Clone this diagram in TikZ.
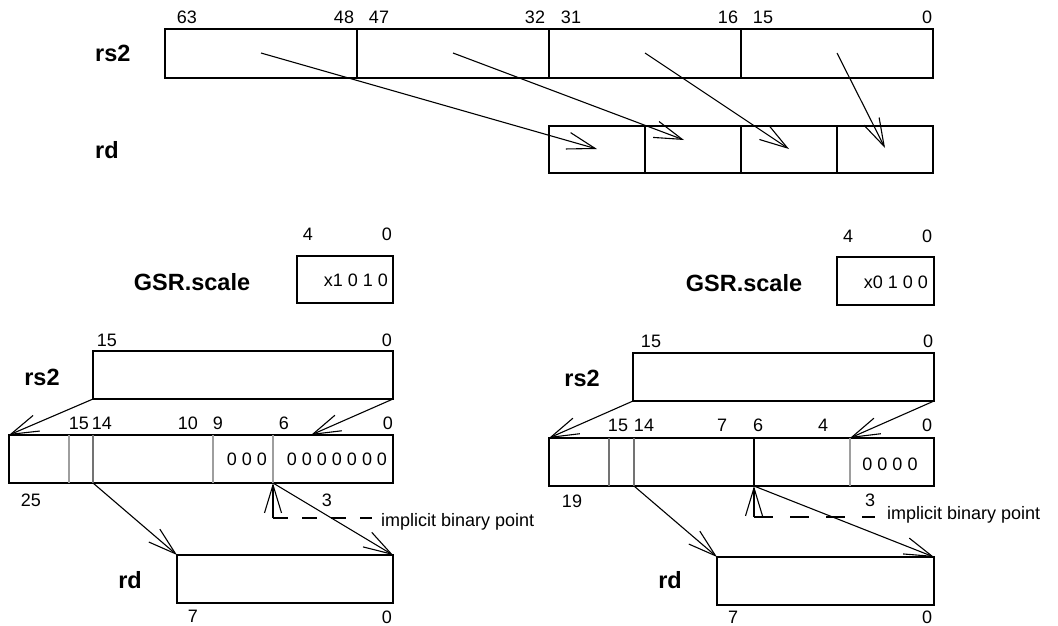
\documentclass[tikz,border=0pt]{standalone}
\usepackage{fontspec}
\setmainfont{Liberation Sans}
\usetikzlibrary{arrows.meta}
\begin{document}
\begin{tikzpicture}[x=1pt,y=-1pt,
  box/.style={draw, line width=1.1pt, inner sep=0pt, outer sep=0pt},
  num/.style={font=\fontsize{18}{20}\selectfont, inner sep=0pt},
  lbl/.style={font=\fontsize{23.5}{26}\selectfont\bfseries, inner sep=0pt},
  arr/.style={line width=1.1pt, -{Straight Barb[length=28pt,width=17pt]}},
  div/.style={line width=1.1pt},
  gdiv/.style={line width=1.1pt, draw=black!38},
  gdivd/.style={line width=1.1pt, draw=black!55},
  dshl/.style={line width=1.1pt, dash pattern=on 15pt off 14pt},
  dshr/.style={line width=1.1pt, dash pattern=on 19pt off 17pt},
]
\useasboundingbox (0,0) rectangle (1058,625);

% ---------------- top part ----------------
\node[lbl, anchor=west] (trs2l) at (95,53) {rs2};
\node[lbl, anchor=west] (trdl) at (95,150) {rd};
\node[box, minimum width=768pt, minimum height=49pt] (trs2) at (549,53.5) {};
\draw[div] (357,29) -- (357,78);
\draw[div] (549,29) -- (549,78);
\draw[div] (741,29) -- (741,78);
\node[num] (t63) at (187,17) {63};
\node[num] (t48) at (344,17) {48};
\node[num] (t47) at (379,17) {47};
\node[num] (t32) at (535,17) {32};
\node[num] (t31) at (571,17) {31};
\node[num] (t16) at (728,17) {16};
\node[num] (t15) at (763,17) {15};
\node[num] (t0) at (927,17) {0};
\node[box, minimum width=384pt, minimum height=47pt] (trd) at (741,149.5) {};
\draw[div] (645,126) -- (645,173);
\draw[div] (741,126) -- (741,173);
\draw[div] (837,126) -- (837,173);
\coordinate (s1) at (261,53); \coordinate (e1) at (597,149);
\coordinate (s2) at (453,53); \coordinate (e2) at (684,140);
\coordinate (s3) at (645,53); \coordinate (e3) at (789,149);
\coordinate (s4) at (837,53); \coordinate (e4) at (885,148);
\draw[arr] (s1) -- (e1);
\draw[arr] (s2) -- (e2);
\draw[arr] (s3) -- (e3);
\draw[arr] (s4) -- (e4);

% ---------------- bottom left ----------------
\node[lbl] (lgsrl) at (192,282) {GSR.scale};
\node[box, minimum width=96pt, minimum height=47pt] (lgsr) at (345,279.5) {};
\node[num, anchor=east] (lgsrv) at (388,280) {x1 0 1 0};
\node[num] (lg4) at (308,234) {4};
\node[num] (lg0) at (387,234) {0};

\node[lbl] (lrs2l) at (42,377) {rs2};
\node[box, minimum width=300pt, minimum height=48pt] (lrs2) at (243,375) {};
\node[num] (lr15) at (107,340) {15};
\node[num] (lr0) at (387,340) {0};

\node[box, minimum width=384pt, minimum height=48pt] (lw) at (201,459) {};
\draw[gdiv] (69,435) -- (69,483);
\draw[gdivd] (93,435) -- (93,483);
\draw[gdiv] (213,435) -- (213,483);
\draw[gdiv] (273,435) -- (273,483);
\node[num] (lw15) at (79,423) {15};
\node[num] (lw14) at (102,423) {14};
\node[num] (lw10) at (188,423) {10};
\node[num] (lw9) at (218,423) {9};
\node[num] (lw6) at (284,423) {6};
\node[num] (lw0) at (388,423) {0};
\node[num] (lwz1) at (247,459) {0 0 0};
\node[num] (lwz2) at (337,459) {0 0 0 0 0 0 0};
\node[num] (lw25) at (31,500) {25};
\node[num] (lw3) at (327,500) {3};

\coordinate (lwt) at (311,435);
\draw[arr] (lrs2.south west) -- (lw.north west);
\draw[arr] (lrs2.south east) -- (lwt);

\node[box, minimum width=216pt, minimum height=48pt] (lrd) at (285,579) {};
\node[lbl] (lrdl) at (130,580) {rd};
\node[num] (lrd7) at (193,616) {7};
\node[num] (lrd0) at (387,617) {0};

\coordinate (l14) at (93,483);
\coordinate (lbp) at (273,483);
\coordinate (lbc) at (273,518);
\coordinate (lbe) at (372,518);
\draw[arr] (l14) -- (lrd.north west);
\draw[arr] (lbp) -- (lrd.north east);
\draw[arr] (lbc) -- (lbp);
\draw[dshl] (lbc) -- (lbe);
\node[num, anchor=base west] (limp) at (381,526) {implicit binary point};

% ---------------- bottom right ----------------
\node[lbl] (rgsrl) at (744,283) {GSR.scale};
\node[box, minimum width=97pt, minimum height=48pt] (rgsr) at (885.5,281) {};
\node[num, anchor=east] (rgsrv) at (928,282) {x0 1 0 0};
\node[num] (rg4) at (848,236) {4};
\node[num] (rg0) at (927,236) {0};

\node[lbl] (rrs2l) at (582,378) {rs2};
\node[box, minimum width=301pt, minimum height=48pt] (rrs2) at (783.5,377) {};
\node[num] (rr15) at (651,341) {15};
\node[num] (rr0) at (928,341) {0};

\node[box, minimum width=385pt, minimum height=48pt] (rw) at (741.5,462) {};
\draw[gdivd] (609,438) -- (609,486);
\draw[gdivd] (634,438) -- (634,486);
\draw[div] (754,438) -- (754,486);
\draw[gdiv] (850,438) -- (850,486);
\node[num] (rw15) at (618,425) {15};
\node[num] (rw14) at (644,425) {14};
\node[num] (rw7) at (722,425) {7};
\node[num] (rw6) at (758,425) {6};
\node[num] (rw4) at (823,425) {4};
\node[num] (rw0) at (927,425) {0};
\node[num] (rwz) at (890,464) {0 0 0 0};
\node[num] (rw19) at (572,501) {19};
\node[num] (rw3) at (870,500) {3};

\coordinate (rwt) at (850,438);
\draw[arr] (rrs2.south west) -- (rw.north west);
\draw[arr] (rrs2.south east) -- (rwt);

\node[box, minimum width=217pt, minimum height=48pt] (rrd) at (825.5,581) {};
\node[lbl] (rrdl) at (670,580) {rd};
\node[num] (rrd7) at (733,617) {7};
\node[num] (rrd0) at (927,617) {0};

\coordinate (r14) at (634,486);
\coordinate (rbp) at (754,486);
\coordinate (rbc) at (754,517);
\coordinate (rbe) at (875,517);
\draw[arr] (r14) -- (rrd.north west);
\draw[arr] (rbp) -- (rrd.north east);
\draw[arr] (rbc) -- (rbp);
\draw[dshr] (rbc) -- (rbe);
\node[num, anchor=base west] (rimp) at (887,519) {implicit binary point};
\end{tikzpicture}
\end{document}
